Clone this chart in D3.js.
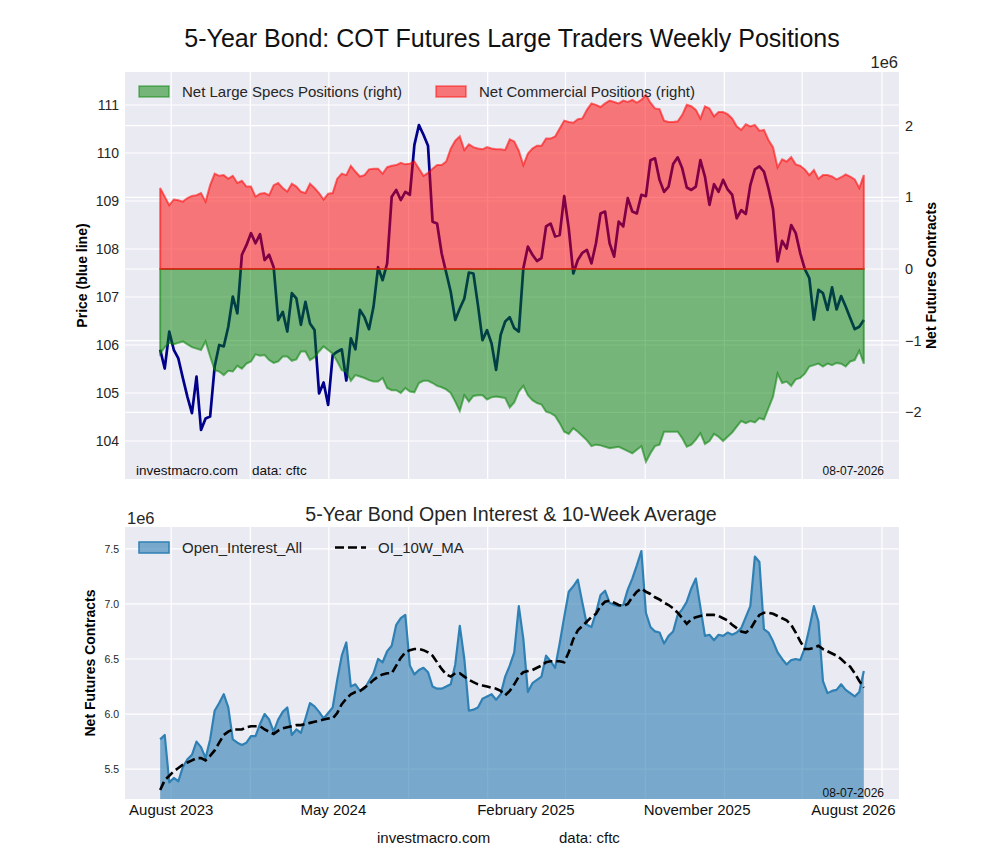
<!DOCTYPE html>
<html>
<head>
<meta charset="utf-8">
<script src="https://d3js.org/d3.v7.min.js"></script>
<style>
  body { margin: 0; background: #fff; }
  svg { font-family: "Liberation Sans", Arial, sans-serif; }
</style>
</head>
<body>
<div id="chart"></div>
<script>
// ---- data (weekly, first report 2023-08-15) ----
// 5-year note futures price (left axis)
const price = [
  105.90,105.51,106.28,105.90,105.72,105.31,104.92,104.58,105.34,104.23,
  104.47,104.51,105.55,106.00,105.97,106.38,107.01,106.66,107.88,108.08,
  108.33,108.12,108.31,107.77,107.88,107.62,106.52,106.69,106.28,107.08,
  106.97,106.42,106.90,106.45,106.31,104.99,105.22,104.75,105.79,105.86,
  105.91,105.26,106.14,105.91,106.73,106.58,106.33,106.80,107.62,107.35,
  107.70,109.09,109.23,109.02,109.19,109.13,110.17,110.58,110.38,110.15,
  108.57,108.53,107.91,107.51,107.11,106.52,106.76,106.97,107.51,107.49,
  106.83,106.10,106.31,106.03,105.48,106.21,106.49,106.58,106.35,106.28,
  107.60,108.05,107.88,107.75,107.81,108.47,108.53,108.26,108.29,109.10,
  108.43,107.49,107.77,107.92,107.98,107.70,108.12,108.74,108.78,108.12,
  107.84,108.57,108.47,109.06,108.78,108.74,109.13,109.10,109.85,109.89,
  109.44,109.19,109.30,109.77,109.91,109.68,109.28,109.23,109.30,109.85,
  109.51,108.92,109.35,109.19,109.44,109.24,109.13,108.64,108.81,108.73,
  109.33,109.66,109.72,109.61,109.26,108.83,107.74,108.17,108.01,108.50,
  108.33,107.91,107.58,107.39,106.53,107.15,107.08,106.73,107.20,106.74,
  107.02,106.80,106.56,106.33,106.38,106.52
];

// net large speculator positions, millions of contracts (right axis)
const netSpecs = [
  -1.18,-1.09,-1.03,-1.05,-1.03,-1.01,-1.05,-1.09,-1.11,-1.13,
  -1.01,-1.22,-1.41,-1.43,-1.48,-1.42,-1.43,-1.35,-1.39,-1.32,
  -1.29,-1.19,-1.21,-1.20,-1.27,-1.31,-1.29,-1.22,-1.22,-1.28,
  -1.26,-1.15,-1.15,-1.27,-1.23,-1.15,-1.08,-1.13,-1.18,-1.29,
  -1.41,-1.43,-1.56,-1.48,-1.50,-1.52,-1.55,-1.57,-1.57,-1.52,
  -1.66,-1.69,-1.69,-1.73,-1.66,-1.71,-1.72,-1.59,-1.56,-1.56,
  -1.59,-1.63,-1.65,-1.68,-1.73,-1.85,-1.98,-1.76,-1.85,-1.77,
  -1.76,-1.76,-1.82,-1.79,-1.78,-1.79,-1.80,-1.93,-1.86,-1.71,
  -1.63,-1.76,-1.83,-1.87,-1.89,-1.99,-2.01,-2.05,-2.15,-2.27,
  -2.30,-2.22,-2.27,-2.33,-2.39,-2.47,-2.45,-2.46,-2.48,-2.50,
  -2.49,-2.48,-2.51,-2.54,-2.57,-2.52,-2.47,-2.69,-2.57,-2.47,
  -2.45,-2.27,-2.27,-2.27,-2.27,-2.36,-2.48,-2.45,-2.38,-2.29,
  -2.44,-2.40,-2.30,-2.34,-2.40,-2.34,-2.28,-2.20,-2.12,-2.15,
  -2.12,-2.14,-2.08,-2.10,-1.94,-1.78,-1.46,-1.59,-1.57,-1.63,
  -1.54,-1.52,-1.46,-1.36,-1.34,-1.32,-1.36,-1.32,-1.34,-1.31,
  -1.32,-1.36,-1.29,-1.27,-1.14,-1.32
];

// net commercial positions, millions of contracts (right axis)
const netCommercial = [
  1.13,1.01,0.89,0.97,0.96,0.94,0.99,1.02,1.03,1.06,
  0.94,1.17,1.33,1.30,1.31,1.26,1.30,1.20,1.23,1.15,
  1.15,1.01,1.05,1.06,1.03,1.17,1.20,1.13,1.08,1.19,
  1.15,1.08,1.06,1.19,1.13,1.06,0.97,1.05,1.06,1.26,
  1.33,1.31,1.44,1.36,1.29,1.31,1.39,1.40,1.40,1.33,
  1.42,1.44,1.45,1.48,1.46,1.47,1.50,1.40,1.30,1.34,
  1.40,1.45,1.45,1.50,1.68,1.79,1.85,1.66,1.74,1.70,
  1.68,1.67,1.70,1.68,1.67,1.67,1.66,1.81,1.78,1.65,
  1.45,1.61,1.68,1.72,1.72,1.82,1.82,1.85,1.96,2.07,
  2.05,2.04,2.09,2.10,2.22,2.31,2.29,2.26,2.31,2.35,
  2.33,2.31,2.35,2.33,2.36,2.32,2.36,2.43,2.32,2.24,
  2.23,2.07,2.05,2.05,2.06,2.15,2.29,2.27,2.22,2.10,
  2.27,2.24,2.13,2.19,2.19,2.16,2.10,1.99,1.94,2.02,
  1.99,2.01,1.93,1.94,1.80,1.70,1.42,1.53,1.50,1.56,
  1.46,1.44,1.39,1.31,1.38,1.26,1.31,1.31,1.29,1.25,
  1.28,1.32,1.29,1.25,1.13,1.31
];

// open interest, millions of contracts
const openInterest = [
  5.77,5.81,5.38,5.42,5.39,5.52,5.59,5.63,5.75,5.70,
  5.60,5.77,6.03,6.10,6.18,6.06,5.77,5.74,5.72,5.74,
  5.80,5.80,5.91,6.00,5.95,5.84,5.95,6.02,6.06,5.81,
  5.86,5.83,5.96,6.10,6.07,6.02,5.96,6.01,6.06,6.31,
  6.53,6.65,6.25,6.27,6.21,6.23,6.30,6.37,6.50,6.47,
  6.57,6.62,6.81,6.87,6.90,6.44,6.36,6.40,6.42,6.38,
  6.25,6.23,6.23,6.25,6.27,6.45,6.80,6.50,6.03,6.04,
  6.06,6.14,6.16,6.18,6.13,6.18,6.34,6.44,6.56,6.98,
  6.68,6.20,6.28,6.31,6.34,6.53,6.48,6.42,6.64,6.88,
  7.11,7.16,7.22,7.01,6.81,6.79,6.92,7.08,7.12,7.01,
  6.99,6.98,6.99,7.13,7.23,7.35,7.48,6.92,6.79,6.75,
  6.74,6.64,6.71,6.75,6.90,6.95,7.02,7.14,7.23,6.97,
  6.71,6.72,6.67,6.72,6.71,6.74,6.72,6.74,6.78,6.88,
  6.98,7.43,7.38,6.77,6.74,6.66,6.56,6.50,6.45,6.49,
  6.50,6.49,6.60,6.78,6.98,6.84,6.30,6.19,6.21,6.22,
  6.27,6.22,6.19,6.16,6.20,6.39
];

// 10-week moving average of open interest, millions (as plotted)
const oi10wMA = [
  5.31,5.40,5.44,5.48,5.51,5.54,5.56,5.58,5.60,5.60,
  5.58,5.62,5.67,5.74,5.81,5.84,5.86,5.86,5.86,5.88,
  5.89,5.89,5.89,5.86,5.84,5.82,5.85,5.87,5.88,5.89,
  5.90,5.90,5.91,5.92,5.93,5.94,5.95,5.96,5.96,6.01,
  6.09,6.14,6.18,6.20,6.21,6.24,6.27,6.31,6.34,6.36,
  6.37,6.37,6.44,6.51,6.56,6.58,6.59,6.59,6.58,6.56,
  6.53,6.47,6.41,6.36,6.34,6.37,6.37,6.34,6.31,6.29,
  6.27,6.26,6.25,6.24,6.23,6.21,6.17,6.21,6.27,6.34,
  6.38,6.39,6.40,6.42,6.44,6.47,6.48,6.48,6.48,6.47,
  6.56,6.68,6.76,6.80,6.84,6.88,6.91,6.98,7.02,7.03,
  7.01,6.99,6.98,7.00,7.06,7.11,7.14,7.11,7.09,7.06,
  7.04,7.01,6.99,6.96,6.92,6.87,6.82,6.86,6.88,6.89,
  6.90,6.90,6.90,6.89,6.87,6.85,6.81,6.78,6.75,6.74,
  6.77,6.84,6.90,6.92,6.92,6.91,6.89,6.87,6.85,6.81,
  6.74,6.66,6.59,6.59,6.60,6.62,6.59,6.57,6.55,6.53,
  6.50,6.46,6.43,6.37,6.30,6.24
];

// x tick labels as they sit on the reference
const xLabels = ["August 2023", "May 2024", "February 2025", "November 2025", "August 2026"];
const xLabelDates = ["2023-09-01", "2024-05-08", "2025-03-01", "2025-11-20", "2026-07-19"];

const priceTicks = [104, 105, 106, 107, 108, 109, 110, 111];
const netTicks = [-2, -1, 0, 1, 2];
const oiTicks = [5.5, 6.0, 6.5, 7.0, 7.5];

const reportDate = "08-07-2026";

// ---- layout ----
const width = 1000, height = 860;
const topBox = { left: 125, right: 899, top: 72, bottom: 479 };
const botBox = { left: 125, right: 899, top: 527, bottom: 799 };
const textColor = "#262626";
const bgColor = "#eaeaf2";

const firstWeek = new Date(2023, 7, 15);
const weeks = d3.range(price.length).map(i => d3.timeWeek.offset(firstWeek, i));
const rows = weeks.map((d, i) => ({
  date: d,
  price: price[i],
  specs: netSpecs[i],
  comm: netCommercial[i],
  oi: openInterest[i],
  ma: oi10wMA[i]
}));

// matplotlib style 5% margin on the date axis
const span = weeks[weeks.length - 1] - weeks[0];
const x = d3.scaleTime()
  .domain([new Date(+weeks[0] - span * 0.05), new Date(+weeks[weeks.length - 1] + span * 0.05)])
  .range([topBox.left, topBox.right]);

const yPrice = d3.scaleLinear().domain([103.208, 111.6875]).range([topBox.bottom, topBox.top]);
const yNet = d3.scaleLinear().domain([-2.929, 2.748]).range([topBox.bottom, topBox.top]);
const yOI = d3.scaleLinear().domain([5.229, 7.698]).range([botBox.bottom, botBox.top]);

const svg = d3.select("#chart").append("svg")
  .attr("width", width)
  .attr("height", height);

const defs = svg.append("defs");
defs.append("clipPath").attr("id", "clipTop").append("rect")
  .attr("x", topBox.left).attr("y", topBox.top)
  .attr("width", topBox.right - topBox.left).attr("height", topBox.bottom - topBox.top);
defs.append("clipPath").attr("id", "clipBot").append("rect")
  .attr("x", botBox.left).attr("y", botBox.top)
  .attr("width", botBox.right - botBox.left).attr("height", botBox.bottom - botBox.top);

const gridMonths = x.ticks(d3.timeMonth.every(4));

// ---- titles ----
svg.append("text")
  .attr("x", 512).attr("y", 47)
  .attr("text-anchor", "middle")
  .attr("font-size", 25)
  .attr("fill", "#111")
  .text("5-Year Bond: COT Futures Large Traders Weekly Positions");

svg.append("text")
  .attr("x", 511).attr("y", 521)
  .attr("text-anchor", "middle")
  .attr("font-size", 19.6)
  .attr("fill", textColor)
  .text("5-Year Bond Open Interest & 10-Week Average");

// ================= TOP PANEL =================
const topPanel = svg.append("g");
topPanel.append("rect")
  .attr("x", topBox.left).attr("y", topBox.top)
  .attr("width", topBox.right - topBox.left).attr("height", topBox.bottom - topBox.top)
  .attr("fill", bgColor);

const topGrid = topPanel.append("g").attr("stroke", "#fff").attr("stroke-width", 1.2);
topGrid.selectAll("line.gx").data(gridMonths).join("line")
  .attr("x1", d => x(d)).attr("x2", d => x(d))
  .attr("y1", topBox.top).attr("y2", topBox.bottom);
topGrid.selectAll("line.gp").data(priceTicks).join("line")
  .attr("x1", topBox.left).attr("x2", topBox.right)
  .attr("y1", d => yPrice(d)).attr("y2", d => yPrice(d));
topGrid.selectAll("line.gn").data(netTicks).join("line")
  .attr("x1", topBox.left).attr("x2", topBox.right)
  .attr("y1", d => yNet(d)).attr("y2", d => yNet(d));

const topPlot = topPanel.append("g").attr("clip-path", "url(#clipTop)");

// price line sits under the translucent fills
topPlot.append("path")
  .datum(rows)
  .attr("fill", "none")
  .attr("stroke", "#00008b")
  .attr("stroke-width", 2.7)
  .attr("stroke-linejoin", "round")
  .attr("d", d3.line().x(d => x(d.date)).y(d => yPrice(d.price)));

const specsArea = d3.area().x(d => x(d.date)).y0(yNet(0)).y1(d => yNet(d.specs));
const commArea = d3.area().x(d => x(d.date)).y0(yNet(0)).y1(d => yNet(d.comm));

topPlot.append("path").datum(rows)
  .attr("d", specsArea)
  .attr("fill", "green").attr("fill-opacity", 0.5)
  .attr("stroke", "green").attr("stroke-opacity", 0.55).attr("stroke-width", 2);

topPlot.append("path").datum(rows)
  .attr("d", commArea)
  .attr("fill", "red").attr("fill-opacity", 0.5)
  .attr("stroke", "red").attr("stroke-opacity", 0.55).attr("stroke-width", 2);

// left axis labels
topPanel.append("g").selectAll("text").data(priceTicks).join("text")
  .attr("x", 119).attr("y", d => yPrice(d) + 5)
  .attr("text-anchor", "end")
  .attr("font-size", 14)
  .attr("fill", textColor)
  .text(d => d);

// right axis labels
topPanel.append("g").selectAll("text").data(netTicks).join("text")
  .attr("x", 905).attr("y", d => yNet(d) + 5)
  .attr("font-size", 14.5)
  .attr("fill", textColor)
  .text(d => d < 0 ? "\u2212" + Math.abs(d) : d);

topPanel.append("text")
  .attr("x", 898).attr("y", 68)
  .attr("text-anchor", "end")
  .attr("font-size", 16.5)
  .attr("fill", textColor)
  .text("1e6");

topPanel.append("text")
  .attr("transform", `translate(87,${(topBox.top + topBox.bottom) / 2}) rotate(-90)`)
  .attr("text-anchor", "middle")
  .attr("font-size", 14)
  .attr("font-weight", "bold")
  .attr("fill", "#000")
  .text("Price (blue line)");

topPanel.append("text")
  .attr("transform", `translate(936,${(topBox.top + topBox.bottom) / 2}) rotate(-90)`)
  .attr("text-anchor", "middle")
  .attr("font-size", 14)
  .attr("font-weight", "bold")
  .attr("fill", "#000")
  .text("Net Futures Contracts");

topPanel.append("text")
  .attr("x", 136).attr("y", 475)
  .attr("font-size", 13.5)
  .attr("fill", "#111")
  .text("investmacro.com");
topPanel.append("text")
  .attr("x", 252).attr("y", 475)
  .attr("font-size", 13.5)
  .attr("fill", "#111")
  .text("data: cftc");
topPanel.append("text")
  .attr("x", 884).attr("y", 475)
  .attr("text-anchor", "end")
  .attr("font-size", 12)
  .attr("fill", "#111")
  .text(reportDate);

// legend
const topLegend = [
  { label: "Net Large Specs Positions (right)", color: "green", x: 139 },
  { label: "Net Commercial Positions (right)", color: "red", x: 436 }
];
const tl = topPanel.append("g").selectAll("g").data(topLegend).join("g")
  .attr("transform", d => `translate(${d.x},86)`);
tl.append("rect")
  .attr("width", 30).attr("height", 11)
  .attr("fill", d => d.color).attr("fill-opacity", 0.5)
  .attr("stroke", d => d.color).attr("stroke-opacity", 0.5).attr("stroke-width", 1.5);
tl.append("text")
  .attr("x", 43).attr("y", 11)
  .attr("font-size", 15)
  .attr("fill", textColor)
  .text(d => d.label);

// ================= BOTTOM PANEL =================
const botPanel = svg.append("g");
botPanel.append("rect")
  .attr("x", botBox.left).attr("y", botBox.top)
  .attr("width", botBox.right - botBox.left).attr("height", botBox.bottom - botBox.top)
  .attr("fill", bgColor);

const botGrid = botPanel.append("g").attr("stroke", "#fff").attr("stroke-width", 1.2);
botGrid.selectAll("line.gx").data(gridMonths).join("line")
  .attr("x1", d => x(d)).attr("x2", d => x(d))
  .attr("y1", botBox.top).attr("y2", botBox.bottom);
botGrid.selectAll("line.gy").data(oiTicks).join("line")
  .attr("x1", botBox.left).attr("x2", botBox.right)
  .attr("y1", d => yOI(d)).attr("y2", d => yOI(d));

const botPlot = botPanel.append("g").attr("clip-path", "url(#clipBot)");

botPlot.append("path").datum(rows)
  .attr("d", d3.area().x(d => x(d.date)).y0(yOI(0)).y1(d => yOI(d.oi)))
  .attr("fill", "#2b7bb0").attr("fill-opacity", 0.6)
  .attr("stroke", "none");

botPlot.append("path").datum(rows)
  .attr("d", d3.line().x(d => x(d.date)).y(d => yOI(d.oi)))
  .attr("fill", "none")
  .attr("stroke", "#2f80b4").attr("stroke-width", 2.2)
  .attr("stroke-linejoin", "round");

botPlot.append("path").datum(rows)
  .attr("d", d3.line().x(d => x(d.date)).y(d => yOI(d.ma)))
  .attr("fill", "none")
  .attr("stroke", "#000").attr("stroke-width", 2.6)
  .attr("stroke-dasharray", "9,4");

botPanel.append("g").selectAll("text").data(oiTicks).join("text")
  .attr("x", 119).attr("y", d => yOI(d) + 4)
  .attr("text-anchor", "end")
  .attr("font-size", 10.5)
  .attr("fill", textColor)
  .text(d => d3.format(".1f")(d));

botPanel.append("text")
  .attr("x", 127).attr("y", 524)
  .attr("font-size", 16.5)
  .attr("fill", textColor)
  .text("1e6");

botPanel.append("text")
  .attr("transform", `translate(95,${(botBox.top + botBox.bottom) / 2}) rotate(-90)`)
  .attr("text-anchor", "middle")
  .attr("font-size", 14)
  .attr("font-weight", "bold")
  .attr("fill", "#000")
  .text("Net Futures Contracts");

botPanel.append("text")
  .attr("x", 884).attr("y", 797)
  .attr("text-anchor", "end")
  .attr("font-size", 12)
  .attr("fill", "#111")
  .text(reportDate);

// x tick labels
const parseDay = d3.timeParse("%Y-%m-%d");
botPanel.append("g").selectAll("text").data(xLabels).join("text")
  .attr("x", (d, i) => x(parseDay(xLabelDates[i])))
  .attr("y", 815)
  .attr("text-anchor", "middle")
  .attr("font-size", 15)
  .attr("fill", "#111")
  .text(d => d);

// legend
const bl = botPanel.append("g");
bl.append("rect")
  .attr("x", 139).attr("y", 542).attr("width", 30).attr("height", 11)
  .attr("fill", "#2b7bb0").attr("fill-opacity", 0.6)
  .attr("stroke", "#2f80b4").attr("stroke-width", 1.5);
bl.append("text")
  .attr("x", 182).attr("y", 553)
  .attr("font-size", 15)
  .attr("fill", textColor)
  .text("Open_Interest_All");
bl.append("line")
  .attr("x1", 335).attr("x2", 366).attr("y1", 547.5).attr("y2", 547.5)
  .attr("stroke", "#000").attr("stroke-width", 2.6)
  .attr("stroke-dasharray", "9,4");
bl.append("text")
  .attr("x", 378).attr("y", 553)
  .attr("font-size", 15)
  .attr("fill", textColor)
  .text("OI_10W_MA");

// footer
svg.append("text")
  .attr("x", 377).attr("y", 843)
  .attr("font-size", 15)
  .attr("fill", "#111")
  .text("investmacro.com");
svg.append("text")
  .attr("x", 559).attr("y", 843)
  .attr("font-size", 15)
  .attr("fill", "#111")
  .text("data: cftc");
</script>
</body>
</html>
